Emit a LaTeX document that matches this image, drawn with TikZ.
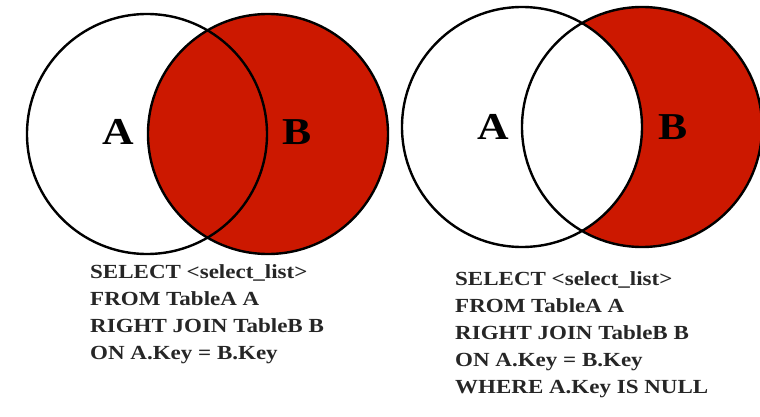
\documentclass[tikz,border=0pt]{standalone}
\usepackage{fontspec}
\setmainfont{Liberation Serif}[FakeStretch=1.15]
\definecolor{joinred}{RGB}{204,24,0}
\begin{document}
\begin{tikzpicture}[x=1pt,y=-1pt,
  setline/.style={line width=2.4pt,black},
  setlabel/.style={font=\fontsize{38}{38}\selectfont\bfseries},
  sqlline/.style={anchor=base west,inner sep=0pt,text=black!85,font=\fontsize{20}{27}\selectfont\bfseries}]
  \useasboundingbox (0,0) rectangle (760,417);
  % Right join
  \fill[joinred] (268,134) circle[radius=120];
  \draw[setline] (147,134) circle[radius=120];
  \draw[setline] (268,134) circle[radius=120];
  \node[setlabel] (leftA) at (118,132) {A};
  \node[setlabel] (leftB) at (297,132) {B};
  \foreach \txt [count=\i] in {SELECT <select\_list>,FROM TableA A,RIGHT JOIN TableB B,ON A.Key = B.Key}
    \node[sqlline] (sqlL\i) at (90,{278+27*(\i-1)}) {\txt};
  % Right join, only B
  \fill[joinred] (642,127) circle[radius=120];
  \fill[white] (522,127) circle[radius=120];
  \draw[setline] (522,127) circle[radius=120];
  \draw[setline] (642,127) circle[radius=120];
  \node[setlabel] (rightA) at (493,127) {A};
  \node[setlabel] (rightB) at (673,127) {B};
  \foreach \txt [count=\i] in {SELECT <select\_list>,FROM TableA A,RIGHT JOIN TableB B,ON A.Key = B.Key,WHERE A.Key IS NULL}
    \node[sqlline] (sqlR\i) at (455,{285+27*(\i-1)}) {\txt};
\end{tikzpicture}
\end{document}
